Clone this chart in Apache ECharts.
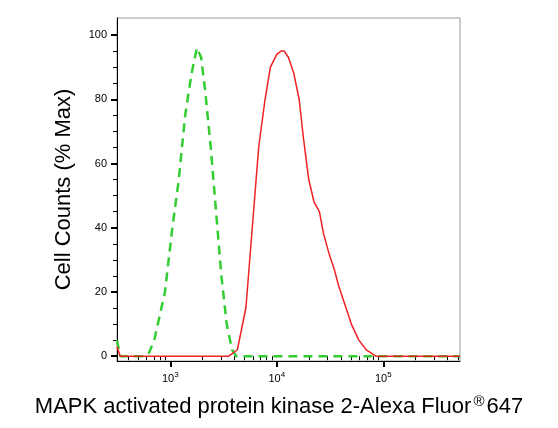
<!DOCTYPE html><html><head><meta charset="utf-8"><script src="https://cdn.jsdelivr.net/npm/echarts@6/dist/echarts.min.js"></script></head><body style="margin:0"><div id="c" style="width:558px;height:428px"></div><script>
// x values are log10(fluorescence)
const redX=[2.5,2.53,3.55,3.63,3.71,3.77,3.83,3.89,3.94,4.0,4.04,4.07,4.11,4.16,4.21,4.25,4.30,4.35,4.40,4.44,4.49,4.54,4.58,4.63,4.70,4.77,4.84,4.93,5.72];
const redY=[3,0,0,2,15,40,65,80,90,94,95,95,93,88,80,68,55,48,45,38,32,27,22,17,10,5,2,0,0];
const greenX=[2.5,2.53,2.75,2.8,2.85,2.95,3.02,3.08,3.14,3.2,3.25,3.29,3.33,3.38,3.43,3.48,3.53,3.58,3.62,5.72];
const greenY=[5,0,0,1,5,20,40,55,75,88,96,93,82,65,45,25,10,2,0,0];
const majorX=[3,4,5];
const minorX=[];[2,3,4,5].forEach(d=>{for(let k=2;k<=9;k++){const v=d+Math.log10(k);if(v>2.5&&v<5.72)minorX.push(v);}});
const yMajor=[0,20,40,60,80,100];
const yMinor=[5,10,15,25,30,35,45,50,55,65,70,75,85,90,95];
const zip=(a,b)=>a.map((v,i)=>[v,b[i]]);
const c=echarts.init(document.getElementById('c'));
const ax={color:'#000',width:1};
c.setOption({animation:false,
grid:{left:117,top:18,right:98,bottom:67,show:true,borderColor:'#999',borderWidth:1},
xAxis:[{type:'value',min:2.5,max:5.72,axisLine:{onZero:false,lineStyle:ax},splitLine:{show:false},
 axisTick:{customValues:majorX,length:6,lineStyle:{width:2,color:'#000'}},
 axisLabel:{customValues:majorX,margin:10,formatter:v=>'{b|10}{s|'+v+'}',rich:{b:{fontSize:11,fontFamily:'Liberation Sans',color:'#000'},s:{fontSize:8,verticalAlign:'top',padding:[0,0,8,0],fontFamily:'Liberation Sans',color:'#000'}}}},
 {type:'value',min:2.5,max:5.72,position:'bottom',axisLine:{show:false},splitLine:{show:false},axisLabel:{show:false},axisTick:{customValues:minorX,length:4,lineStyle:{color:'#000'}}}],
yAxis:[{type:'value',min:-1.5,max:105.3,axisLine:{show:true,lineStyle:ax},splitLine:{show:false},
 axisTick:{show:true,customValues:yMajor,length:6,lineStyle:{width:2,color:'#000'}},
 axisLabel:{customValues:yMajor,fontSize:11,fontFamily:'Liberation Sans',color:'#000',margin:10},
 name:'Cell Counts (% Max)',nameLocation:'middle',nameGap:42,nameTextStyle:{fontSize:22,fontFamily:'Liberation Sans',color:'#000'}},
 {type:'value',min:-1.5,max:105.3,position:'left',axisLine:{show:false},splitLine:{show:false},axisLabel:{show:false},axisTick:{show:true,customValues:yMinor,length:4,lineStyle:{color:'#000'}}}],
graphic:[{type:'text',left:'center',top:394,style:{rich:{a:{fontSize:22,fontFamily:'Liberation Sans',fill:'#000'},r:{fontSize:15,fontFamily:'Liberation Sans',fill:'#000',verticalAlign:'top',padding:[0,2,10,2]}},text:'{a|MAPK activated protein kinase 2-Alexa Fluor}{r|®}{a|647}'}}],
series:[
 {type:'line',data:zip(greenX,greenY),symbol:'none',lineStyle:{color:'#33cc33',width:2.5,type:[9,6]}},
 {type:'line',data:zip(redX,redY),symbol:'none',lineStyle:{color:'#ee2222',width:1.5}}]
});
</script></body></html>
